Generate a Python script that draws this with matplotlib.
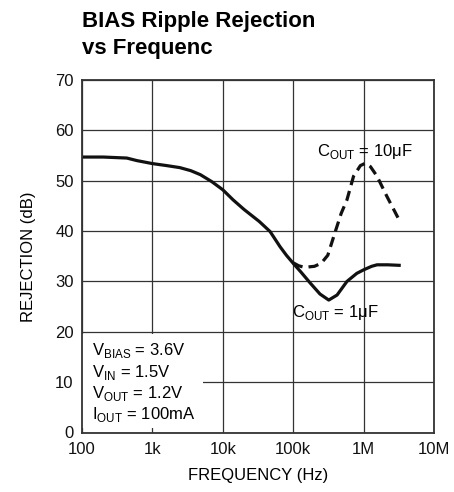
import numpy as np
import matplotlib.pyplot as plt
from matplotlib.patches import Rectangle

plt.rcParams['font.family'] = ['Liberation Sans', 'DejaVu Sans']
plt.rcParams['mathtext.fontset'] = 'custom'
plt.rcParams['mathtext.rm'] = 'Liberation Sans'

# data
freq_1u = [100, 200, 433, 600, 1e3, 1.6e3, 2.45e3, 3.5e3, 4.8e3, 7e3, 1e4,
           1.4e4, 2e4, 3.3e4, 4.7e4, 6.5e4, 8e4, 1e5, 1.3e5, 1.74e5, 2.4e5,
           3.2e5, 4.2e5, 5.8e5, 8e5, 1e6, 1.3e6, 1.55e6, 2.2e6, 3.2e6]
rej_1u = [54.7, 54.7, 54.5, 54.0, 53.4, 53.0, 52.6, 52.0, 51.2, 49.8, 48.2,
          46.2, 44.3, 41.9, 39.9, 36.9, 35.2, 33.6, 31.8, 29.7, 27.5,
          26.3, 27.3, 30.0, 31.6, 32.3, 33.0, 33.3, 33.3, 33.2]

freq_10u = [1e5, 1.2e5, 1.45e5, 2e5, 2.5e5, 3.1e5, 3.9e5, 4.8e5, 5.8e5,
            7.2e5, 9e5, 1.07e6, 1.25e6, 1.55e6, 2.14e6, 3.2e6]
rej_10u = [33.7, 33.1, 32.8, 33.0, 33.6, 35.2, 39.6, 43.5, 46.2,
           50.9, 53.0, 53.5, 52.8, 50.9, 46.9, 42.2]

xticks = [100, 1e3, 1e4, 1e5, 1e6, 1e7]
xlabels = ['100', '1k', '10k', '100k', '1M', '10M']
yticks = [0, 10, 20, 30, 40, 50, 60, 70]

cond = [r'V$_{\mathregular{BIAS}}$ = 3.6V', r'V$_{\mathregular{IN}}$ = 1.5V',
        r'V$_{\mathregular{OUT}}$ = 1.2V', r'I$_{\mathregular{OUT}}$ = 100mA']

fig = plt.figure(figsize=(4.54, 4.92), dpi=100)
ax = fig.add_axes([82/454, 1 - 432.5/492, 352/454, 352.5/492])

ax.set_xscale('log')
ax.set_xlim(100, 1e7)
ax.set_ylim(0, 70)
ax.set_xticks(xticks)
ax.set_xticklabels(xlabels)
ax.set_yticks(yticks)
ax.minorticks_off()
ax.tick_params(length=0, labelsize=12, colors='#111111')
ax.tick_params(axis='x', pad=7)
ax.tick_params(axis='y', pad=6)
ax.grid(True, color='#333333', linewidth=0.9, zorder=0)
for s in ax.spines.values():
    s.set_color('#333333')
    s.set_linewidth(1.3)
    s.set_zorder(5)

# white box behind the conditions text (leaves the 20 dB line showing)
ax.add_patch(Rectangle((0, 0.013), 0.345, 0.266, transform=ax.transAxes,
                       facecolor='white', edgecolor='none', zorder=2))

ax.plot(freq_1u, rej_1u, color='#111111', lw=2.3, zorder=3,
        solid_joinstyle='round')
ax.plot(freq_10u, rej_10u, color='#111111', lw=2.3, zorder=3,
        linestyle=(0, (3.2, 1.9)))

ax.text(2.2e5, 55.0, r'C$_{\mathregular{OUT}}$ = 10$\mathregular{\mu}$F',
        fontsize=12, ha='left', va='baseline', zorder=4)
ax.text(9.5e4, 22.9, r'C$_{\mathregular{OUT}}$ = 1$\mathregular{\mu}$F',
        fontsize=12, ha='left', va='baseline', zorder=4)

for t, yv in zip(cond, [15.4, 11.0, 6.8, 2.6]):
    ax.text(139, yv, t, fontsize=12, ha='left', va='baseline', zorder=4)

ax.set_xlabel('FREQUENCY (Hz)', fontsize=12, labelpad=8)
ax.set_ylabel('REJECTION (dB)', fontsize=12, labelpad=14)

fig.text(82/454, 1 - 11/492, 'BIAS Ripple Rejection\nvs Frequenc',
         fontsize=16, fontweight='bold', ha='left', va='top',
         linespacing=1.35)

fig.savefig('out.png', dpi=100)
